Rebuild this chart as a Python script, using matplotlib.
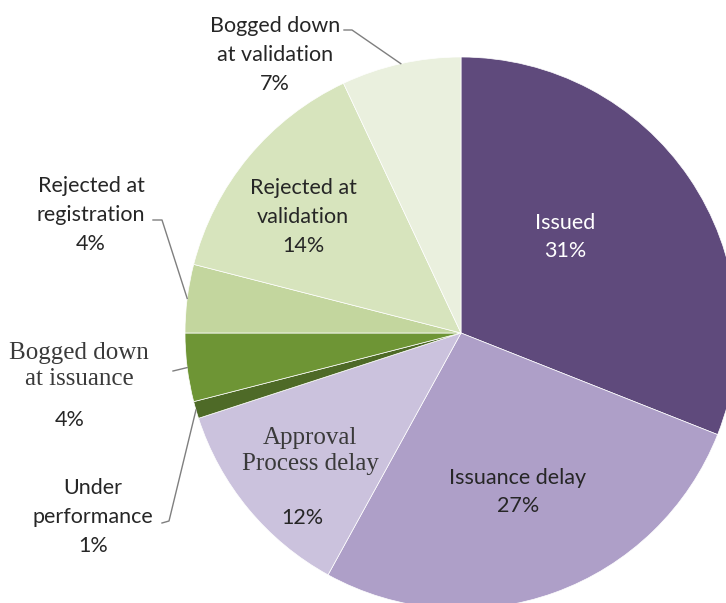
import matplotlib
matplotlib.use("Agg")
import matplotlib.pyplot as plt
import numpy as np

categories = ["Issued", "Issuance delay", "Approval\nProcess delay", "Under\nperformance",
              "Bogged down\nat issuance", "Rejected at\nregistration", "Rejected at\nvalidation",
              "Bogged down\nat validation"]
values = [31, 27, 12, 1, 4, 4, 14, 7]
colors = ["#5F4A7C", "#AE9FC8", "#CBC2DD", "#4E6A27", "#6E9535", "#C3D69E", "#D7E4BD", "#EAF0DE"]

W, H = 726, 603
fig = plt.figure(figsize=(W / 100, H / 100), dpi=100)
ax = fig.add_axes([0, 0, 1, 1])

cx, cy, r = 461, H - 333, 276
wedges, _ = ax.pie(values, colors=colors, startangle=90, counterclock=False,
                   center=(cx, cy), radius=r, frame=True,
                   wedgeprops=dict(linewidth=0.5, edgecolor="white"))
ax.set_xlim(0, W)
ax.set_ylim(0, H)
ax.set_aspect("equal")
ax.axis("off")

sans = ["Lato", "DejaVu Sans"]
serif = ["Liberation Serif", "DejaVu Serif"]
dark = "#262626"
fs = 15.5
sfs = 18
ls = 1.55

def Y(y):
    return H - y

def edge(i, frac=1.0):
    w = wedges[i]
    a = np.deg2rad((w.theta1 + w.theta2) / 2)
    return cx + r * frac * np.cos(a), cy + r * frac * np.sin(a)

# inside labels
ax.text(565, Y(237), "Issued\n31%", color="white", fontsize=fs, family=sans,
        ha="center", va="center", linespacing=ls)
ax.text(518, Y(492), "Issuance delay\n27%", color=dark, fontsize=fs, family=sans,
        ha="center", va="center", linespacing=ls)
ax.text(310, Y(451), "Approval\nProcess delay", color="#3a3a3a", fontsize=sfs, family=serif,
        ha="center", va="center", linespacing=1.2)
ax.text(302, Y(518), "12%", color=dark, fontsize=fs, family=sans, ha="center", va="center")
ax.text(303, Y(217), "Rejected at\nvalidation\n14%", color=dark, fontsize=fs, family=sans,
        ha="center", va="center", linespacing=ls)

# outside labels
ax.text(275, Y(55), "Bogged down\nat validation\n7%", color=dark, fontsize=fs, family=sans,
        ha="center", va="center", linespacing=ls)
ax.text(91, Y(215), "Rejected at\nregistration\n4%", color=dark, fontsize=fs, family=sans,
        ha="center", va="center", linespacing=ls)
ax.text(79, Y(366), "Bogged down\nat issuance", color="#3a3a3a", fontsize=sfs, family=serif,
        ha="center", va="center", linespacing=1.2)
ax.text(70, Y(420), "4%", color=dark, fontsize=fs, family=sans, ha="center", va="center")
ax.text(93, Y(517), "Under\nperformance\n1%", color=dark, fontsize=fs, family=sans,
        ha="center", va="center", linespacing=ls)

lc = "#7f7f7f"
# leader lines
ex, ey = edge(7)
ax.plot([344, 352, ex], [Y(30), Y(30), ey], color=lc, lw=1)
ex, ey = edge(5)
ax.plot([153, 162, ex], [Y(220), Y(220), ey], color=lc, lw=1)
ex, ey = edge(4)
ax.plot([173, ex], [Y(371), ey], color=lc, lw=1)
ex, ey = edge(3)
ax.plot([162, 169, ex], [Y(523), Y(521), ey], color=lc, lw=1)

fig.savefig("out.png", dpi=100)
